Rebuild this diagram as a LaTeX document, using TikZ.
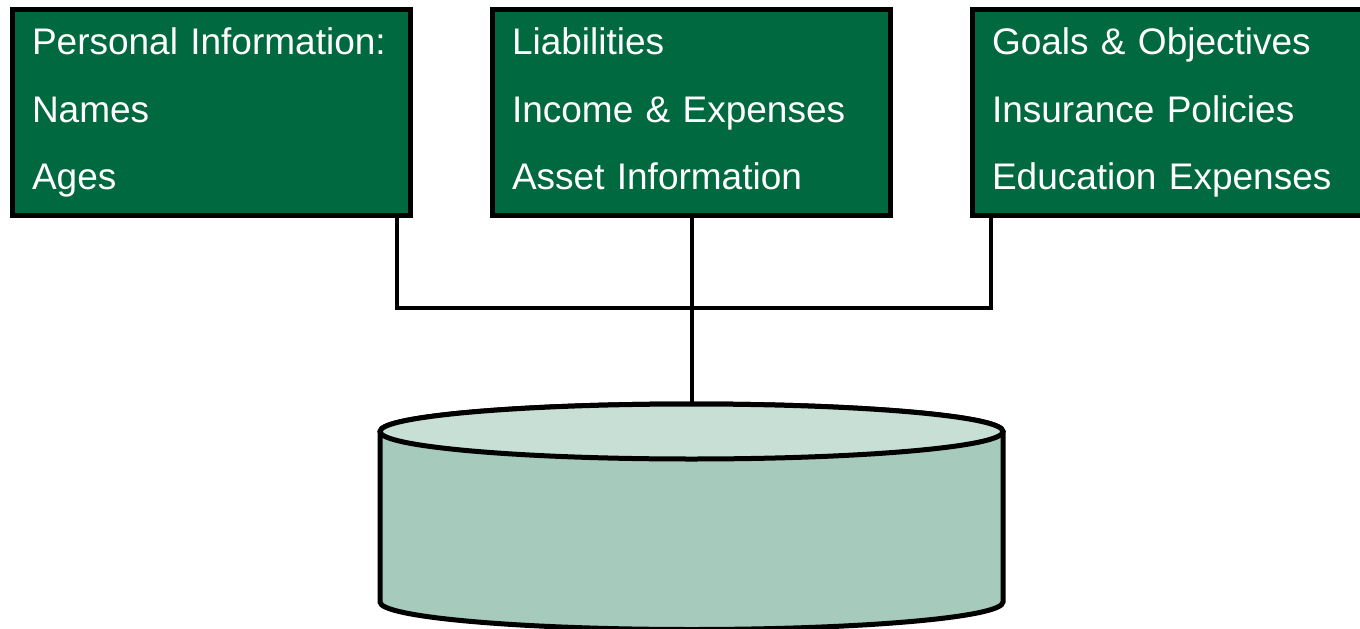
\documentclass[tikz,border=0pt]{standalone}
\usepackage{fontspec}
\setmainfont{Liberation Sans}

\definecolor{boxgreen}{RGB}{0,105,64}
\definecolor{dbtop}{RGB}{200,223,213}
\definecolor{dbside}{RGB}{166,202,187}

\tikzset{
  infobox/.style={draw=black, line width=5pt, fill=boxgreen, text=white,
    align=left, text width=359pt, inner xsep=19.5pt, minimum width=398pt,
    minimum height=206pt, outer sep=0pt, anchor=north west,
    font=\fontsize{37}{67.5}\selectfont},
  dbshape/.style={draw=black, line width=5pt},
  wire/.style={line width=4pt}
}

\begin{document}
\begin{tikzpicture}[x=1pt, y=1pt]
  \useasboundingbox (0,0) rectangle (1360,-629);
  %
  \node[infobox] (personal) at (12.5,-9.5) {Personal Information:\\Names\\Ages};
  \node[infobox] (finance) at (492.5,-9.5) {Liabilities\\Income \& Expenses\\Asset Information\vphantom{g}};
  \node[infobox] (plans) at (972.5,-9.5) {Goals \& Objectives\\Insurance Policies\\Education Expenses};
  %
  % database drum
  \coordinate (dbc) at (691.5,-431.5);
  \coordinate (dbtop) at (691.5,-404);
  \filldraw[dbshape, fill=dbside] (380,-431.5) -- (380,-602)
    arc[start angle=180, end angle=360, x radius=311.5, y radius=27.5]
    -- (1003,-431.5) arc[start angle=0, end angle=180, x radius=311.5, y radius=27.5];
  \filldraw[dbshape, fill=dbtop] (dbc) ellipse[x radius=311.5, y radius=27.5];
  %
  \coordinate (busL) at (397,-308);
  \coordinate (busR) at (991,-308);
  \draw[wire] (personal.south -| busL) -- (busL) -- (busR) -- (plans.south -| busR);
  \draw[wire] (finance.south) -- (dbtop);
\end{tikzpicture}
\end{document}
